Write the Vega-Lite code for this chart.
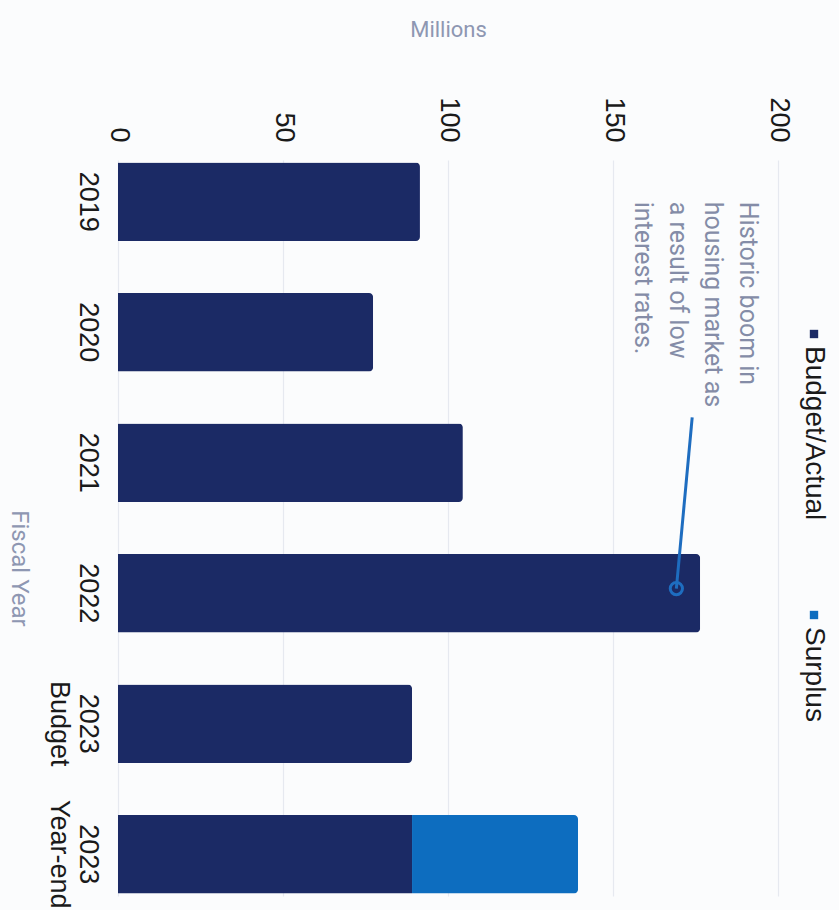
{
  "$schema": "https://vega.github.io/schema/vega-lite/v6.json",
  "width": 660,
  "height": 736,
  "autosize": {"type": "none"},
  "padding": {"left": 118, "top": 160, "right": 61, "bottom": 14},
  "background": "#fbfcfd",
  "config": {"view": {"stroke": null}},
  "layer": [
    {
      "data": {"values": [
        {"year": "2019", "series": "Budget/Actual", "value": 91.5},
        {"year": "2020", "series": "Budget/Actual", "value": 77.3},
        {"year": "2021", "series": "Budget/Actual", "value": 104.5},
        {"year": "2022", "series": "Budget/Actual", "value": 176.4},
        {"year": "2023 Budget", "series": "Budget/Actual", "value": 89.1},
        {"year": "2023 Year-end", "series": "Budget/Actual", "value": 89.1},
        {"year": "2023 Year-end", "series": "Surplus", "value": 50.3}
      ]},
      "mark": {"type": "bar", "cornerRadiusEnd": 4},
      "encoding": {
        "y": {
          "field": "year", "type": "nominal", "sort": null,
          "scale": {"paddingInner": 0.4, "paddingOuter": 0.02},
          "axis": {
            "title": "Fiscal Year", "titleAngle": 90, "titleFont": "Roboto", "titleFontSize": 24,
            "titleFontWeight": "normal", "titleColor": "#8e97b2", "titleX": -100, "titleY": 408,
            "titleAlign": "center", "titleBaseline": "middle",
            "labelAngle": 90, "labelAlign": "center", "labelBaseline": "top", "labelPadding": 18,
            "labelFont": "Liberation Sans", "labelFontSize": 27, "labelColor": "#1a1a1a",
            "labelLineHeight": 29, "labelExpr": "split(datum.label, ' ')",
            "labelOverlap": false, "ticks": false, "domain": false, "grid": false
          }
        },
        "x": {
          "field": "value", "type": "quantitative", "stack": "zero",
          "scale": {"domain": [0, 200], "nice": false},
          "axis": {
            "orient": "top", "title": "Millions", "titleFont": "Roboto", "titleFontSize": 22,
            "titleFontWeight": "normal", "titleColor": "#8e97b2", "titleY": -124,
            "titleBaseline": "alphabetic",
            "labelAngle": 90, "labelAlign": "right", "labelBaseline": "middle", "labelPadding": 18,
            "labelFont": "Liberation Sans", "labelFontSize": 27, "labelColor": "#1a1a1a",
            "labelFlush": false, "labelOverlap": false,
            "ticks": false, "domain": false, "gridColor": "#e6e9f0", "gridWidth": 1.2,
            "values": [0, 50, 100, 150, 200]
          }
        },
        "color": {
          "field": "series", "type": "nominal",
          "scale": {"domain": ["Budget/Actual", "Surplus"], "range": ["#1b2a65", "#0d6dbf"]},
          "legend": {
            "orient": "none", "legendX": 682, "legendY": 160, "direction": "vertical",
            "title": null, "symbolType": "square", "symbolSize": 70, "symbolStrokeWidth": 0,
            "labelFont": "Liberation Sans", "labelFontSize": 28, "labelColor": "#1a1a1a",
            "labelOffset": 0, "labelLimit": 400, "rowPadding": 80, "padding": 0,
            "encode": {"labels": {"update": {
              "angle": {"value": 90}, "align": {"value": "left"}, "baseline": {"value": "middle"},
              "dx": {"value": 12}, "dy": {"value": 14}
            }}}
          }
        }
      }
    },
    {
      "layer": [
        {
          "data": {"values": [
            {"v": 194.5, "pos": 0.5, "note": "Historic boom in\nhousing market as\na result of low\ninterest rates."}
          ]},
          "mark": {"type": "text", "angle": 90, "align": "left", "baseline": "top", "lineBreak": "\n",
                   "font": "Roboto", "fontSize": 25, "lineHeight": 35, "color": "#848ca7"},
          "encoding": {
            "x": {"field": "v", "type": "quantitative"},
            "y": {"field": "pos", "type": "quantitative",
                  "scale": {"domain": [0.18, 5.82], "reverse": true, "nice": false, "zero": false}, "axis": null},
            "text": {"field": "note", "type": "nominal"}
          }
        },
        {
          "data": {"values": [
            {"v": 174, "pos": 2.153, "v2": 169.2, "pos2": 3.464}
          ]},
          "mark": {"type": "rule", "color": "#1e6dc0", "strokeWidth": 3},
          "encoding": {
            "x": {"field": "v", "type": "quantitative"},
            "x2": {"field": "v2"},
            "y": {"field": "pos", "type": "quantitative",
                  "scale": {"domain": [0.18, 5.82], "reverse": true, "nice": false, "zero": false}, "axis": null},
            "y2": {"field": "pos2"}
          }
        },
        {
          "data": {"values": [
            {"v": 169.2, "pos": 3.464}
          ]},
          "mark": {"type": "point", "shape": "circle", "filled": false, "size": 150, "strokeWidth": 3,
                   "color": "#1e6dc0", "opacity": 1},
          "encoding": {
            "x": {"field": "v", "type": "quantitative"},
            "y": {"field": "pos", "type": "quantitative",
                  "scale": {"domain": [0.18, 5.82], "reverse": true, "nice": false, "zero": false}, "axis": null}
          }
        }
      ]
    }
  ],
  "resolve": {"scale": {"y": "independent"}}
}
